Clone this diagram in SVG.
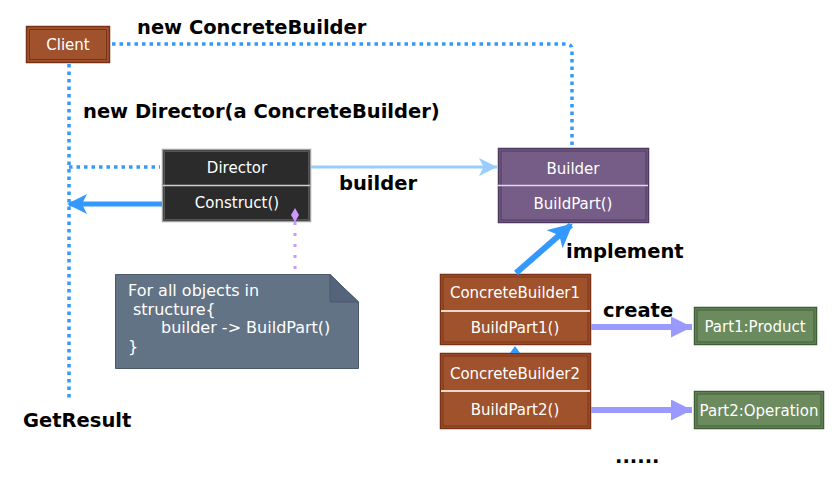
<svg xmlns="http://www.w3.org/2000/svg" width="839" height="479" viewBox="0 0 839 479">
<defs>
<style>
.lbl{font-family:"DejaVu Sans",Verdana,sans-serif;font-weight:bold;font-size:19.5px;fill:#000}
.nt{font-family:"DejaVu Sans",Verdana,sans-serif;font-size:15px;fill:#fff;text-anchor:middle}
.note{font-family:"DejaVu Sans",Verdana,sans-serif;font-size:16px;fill:#fff}
.dot{fill:none;stroke:#3399ff;stroke-width:3.5;stroke-dasharray:3.5 4}
.brown{fill:#a0522d;stroke:#7a3216;stroke-width:1.5}
.brownIn{fill:none;stroke:#7a3216;stroke-width:1}
.div{stroke:#e8d8d0;stroke-width:2}
</style>
<marker id="mBlue" viewBox="0 0 10 10" refX="9" refY="5" markerWidth="4" markerHeight="4" orient="auto" markerUnits="strokeWidth"><path d="M0,0 L10,5 L0,10 L2.5,5 Z" fill="#3399ff"/></marker>
<marker id="mLight" viewBox="0 0 10 10" refX="10" refY="5" markerWidth="6" markerHeight="6" orient="auto" markerUnits="strokeWidth"><path d="M0,0 L10,5 L0,10 L2.5,5 Z" fill="#99ccff"/></marker>
<marker id="mLav" viewBox="0 0 10 10" refX="10" refY="5" markerWidth="3.5" markerHeight="3.5" orient="auto" markerUnits="strokeWidth"><path d="M0,0 L10,5 L0,10 Z" fill="#9999ff"/></marker>
</defs>
<rect width="839" height="479" fill="#fff"/>

<g id="labels">
<text class="lbl" x="137" y="34">new ConcreteBuilder</text>
<text class="lbl" x="83" y="118">new Director(a ConcreteBuilder)</text>
<text class="lbl" x="339" y="190">builder</text>
<text class="lbl" x="23" y="427">GetResult</text>
<text class="lbl" x="566" y="258">implement</text>
<text class="lbl" x="603" y="317">create</text>
<text class="lbl" x="615" y="463">......</text>
</g>

<g id="client">
<rect class="brown" x="26.5" y="26.5" width="83" height="36"/>
<rect class="brownIn" x="29.5" y="29.5" width="77" height="30"/>
<text class="nt" x="68" y="50">Client</text>
</g>

<g id="director">
<rect x="162.5" y="149.5" width="148" height="72" fill="#2b2b2b" stroke="#a0a0a0" stroke-width="1.5"/>
<rect x="164.5" y="151.5" width="144" height="68" fill="none" stroke="#555" stroke-width="1"/>
<line x1="163" y1="185.5" x2="310" y2="185.5" stroke="#cfcfcf" stroke-width="1.5"/>
<text class="nt" x="237" y="173">Director</text>
<text class="nt" x="237" y="208">Construct()</text>
</g>

<g id="builder">
<rect x="498.5" y="148.5" width="150" height="74" fill="#765d87" stroke="#4d3a5e" stroke-width="1.5"/>
<rect x="501" y="151" width="145" height="69" fill="none" stroke="#4d3a5e" stroke-width="1"/>
<line x1="498" y1="185.5" x2="648" y2="185.5" stroke="#e0dae6" stroke-width="1.5"/>
<text class="nt" x="573" y="174">Builder</text>
<text class="nt" x="573" y="209">BuildPart()</text>
</g>

<g id="note">
<path d="M115.5,274.5 H330 L358.5,302 V368.5 H115.5 Z" fill="#627386" stroke="#4a5868" stroke-width="1"/>
<path d="M330,274.5 V302 H358.5 Z" fill="#55647a" stroke="#4a5868" stroke-width="1"/>
<text class="note" x="128" y="296">For all objects in</text>
<text class="note" x="133" y="315">structure{</text>
<text class="note" x="161" y="333">builder -&gt; BuildPart()</text>
<text class="note" x="128" y="352">}</text>
</g>

<g id="concreteBuilder1">
<rect class="brown" x="440.5" y="274.5" width="150" height="70"/>
<rect class="brownIn" x="443" y="277" width="145" height="65"/>
<line class="div" x1="441" y1="311" x2="590" y2="311"/>
<text class="nt" x="515" y="298">ConcreteBuilder1</text>
<text class="nt" x="515" y="333">BuildPart1()</text>
</g>

<g id="concreteBuilder2">
<rect class="brown" x="440.5" y="353.5" width="150" height="75"/>
<rect class="brownIn" x="443" y="356" width="145" height="70"/>
<line class="div" x1="441" y1="391" x2="590" y2="391"/>
<text class="nt" x="515" y="379">ConcreteBuilder2</text>
<text class="nt" x="515" y="415">BuildPart2()</text>
</g>

<g id="part1">
<rect x="694.5" y="307.5" width="122" height="37" fill="#6b8a5e" stroke="#3f5e35" stroke-width="1.5"/>
<rect x="697" y="310" width="117" height="32" fill="none" stroke="#3f5e35" stroke-width="1"/>
<text class="nt" x="755" y="332">Part1:Product</text>
</g>

<g id="part2">
<rect x="694.5" y="391.5" width="129" height="37" fill="#6b8a5e" stroke="#3f5e35" stroke-width="1.5"/>
<rect x="697" y="394" width="124" height="32" fill="none" stroke="#3f5e35" stroke-width="1"/>
<text class="nt" x="759" y="416">Part2:Operation</text>
</g>

<g id="connectors">
<path class="dot" d="M112,44 H566 Q572,44 572,50 V146"/>
<path class="dot" d="M69,64 V398"/>
<path class="dot" d="M69,167 H160"/>
<line x1="162" y1="204" x2="69" y2="204" stroke="#3399ff" stroke-width="5" marker-end="url(#mBlue)"/>
<line x1="311" y1="167" x2="497" y2="167" stroke="#99ccff" stroke-width="3" marker-end="url(#mLight)"/>
<line x1="295" y1="222" x2="295" y2="273" stroke="#cc99ff" stroke-width="3" stroke-dasharray="3 8"/>
<path d="M295,208 L299,215 L295,222 L291,215 Z" fill="#cc99ff"/>
<line x1="516" y1="273" x2="571" y2="225" stroke="#3399ff" stroke-width="6" marker-end="url(#mBlue)"/>
<path d="M515,346 L520,353 L510,353 Z" fill="#3399ff"/>
<line x1="591" y1="327" x2="692" y2="327" stroke="#9999ff" stroke-width="6" marker-end="url(#mLav)"/>
<line x1="591" y1="410" x2="692" y2="410" stroke="#9999ff" stroke-width="6" marker-end="url(#mLav)"/>
</g>
</svg>
